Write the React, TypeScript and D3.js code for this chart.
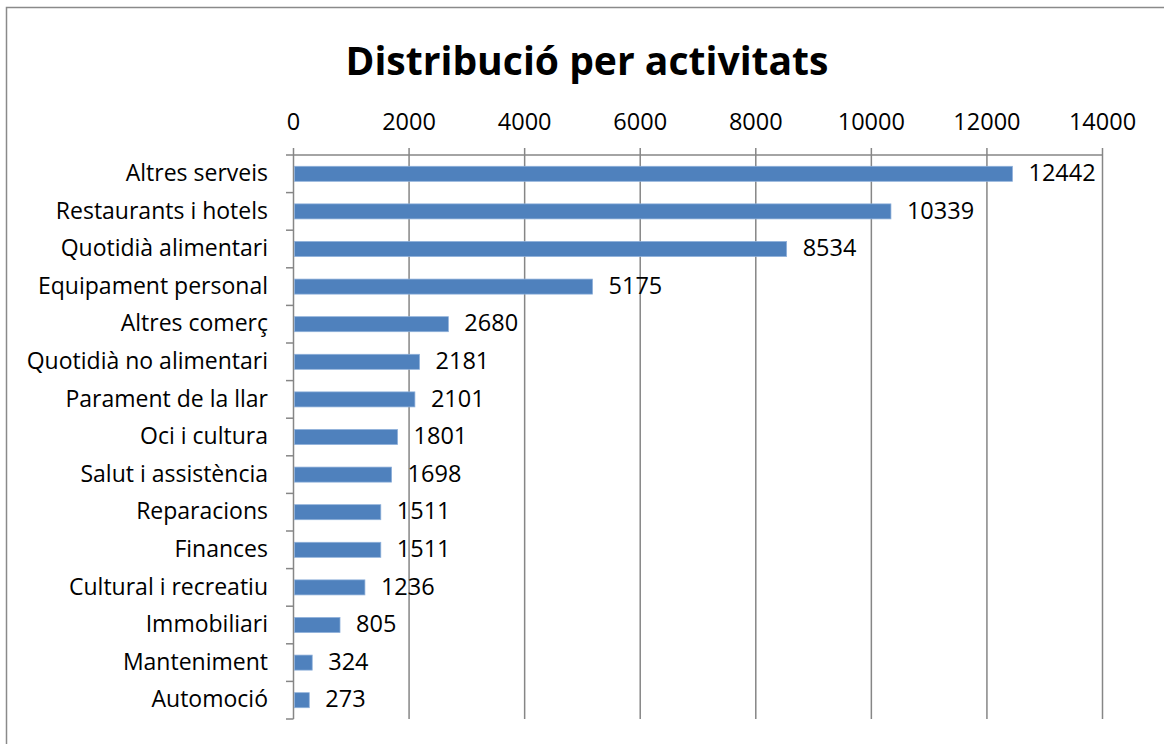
import React from "react";
import * as d3 from "d3";

const categories = [
  "Altres serveis",
  "Restaurants i hotels",
  "Quotidià alimentari",
  "Equipament personal",
  "Altres comerç",
  "Quotidià no alimentari",
  "Parament de la llar",
  "Oci i cultura",
  "Salut i assistència",
  "Reparacions",
  "Finances",
  "Cultural i recreatiu",
  "Immobiliari",
  "Manteniment",
  "Automoció",
];
const values = [12442, 10339, 8534, 5175, 2680, 2181, 2101, 1801, 1698, 1511, 1511, 1236, 805, 324, 273];
const xTicks = [0, 2000, 4000, 6000, 8000, 10000, 12000, 14000];
const title = "Distribució per activitats";

const W = 1164;
const H = 744;
const FONT = "'Open Sans', 'Noto Sans', sans-serif";

export default function App() {
  const x = d3.scaleLinear().domain([0, 14000]).range([293.5, 1102.5]);
  const y = d3.scaleBand<string>().domain(categories).range([155, 719]).paddingInner(0.6).paddingOuter(0.3);
  const band = d3.scaleBand<string>().domain(categories).range([155, 719]);
  const grid = "#868686";
  return (
    <svg width={W} height={H} style={{ position: "absolute", left: 0, top: 0 }} fontFamily={FONT}>
      <rect x={0} y={0} width={W} height={H} fill="#fff" />
      <path d={`M6.5,${H + 5}V7.5H${W + 5}`} fill="none" stroke="#8a8a8a" strokeWidth={1.5} />
      <text x={587} y={75} textAnchor="middle" fontWeight="bold" fontSize={40} textLength={483} lengthAdjust="spacingAndGlyphs">
        {title}
      </text>
      {xTicks.map((t) => (
        <g key={t}>
          <line x1={x(t)} x2={x(t)} y1={148} y2={719} stroke={grid} strokeWidth={1.5} />
          <text x={x(t)} y={130} textAnchor="middle" fontSize={23.5}>
            {t}
          </text>
        </g>
      ))}
      <line x1={x(0)} x2={x(14000)} y1={155} y2={155} stroke={grid} strokeWidth={1.5} />
      {categories.map((c, i) => (
        <line key={"tk" + i} x1={286} x2={x(0)} y1={band(c)!} y2={band(c)!} stroke={grid} strokeWidth={1.5} />
      ))}
      <line x1={286} x2={x(0)} y1={719} y2={719} stroke={grid} strokeWidth={1.5} />
      {categories.map((c, i) => (
        <g key={c}>
          <rect
            x={x(0) + 1}
            y={y(c)!}
            width={x(values[i]) - x(0) - 1}
            height={y.bandwidth()}
            fill="#4F81BD"
            stroke="#8FB0DA"
            strokeWidth={0.75}
          />
          <text x={268} y={band(c)! + band.bandwidth() / 2 + 1} textAnchor="end" dominantBaseline="middle" fontSize={23}>
            {c}
          </text>
          <text x={x(values[i]) + 16} y={y(c)! + y.bandwidth() / 2 + 1} dominantBaseline="middle" fontSize={23.5}>
            {values[i]}
          </text>
        </g>
      ))}
    </svg>
  );
}
